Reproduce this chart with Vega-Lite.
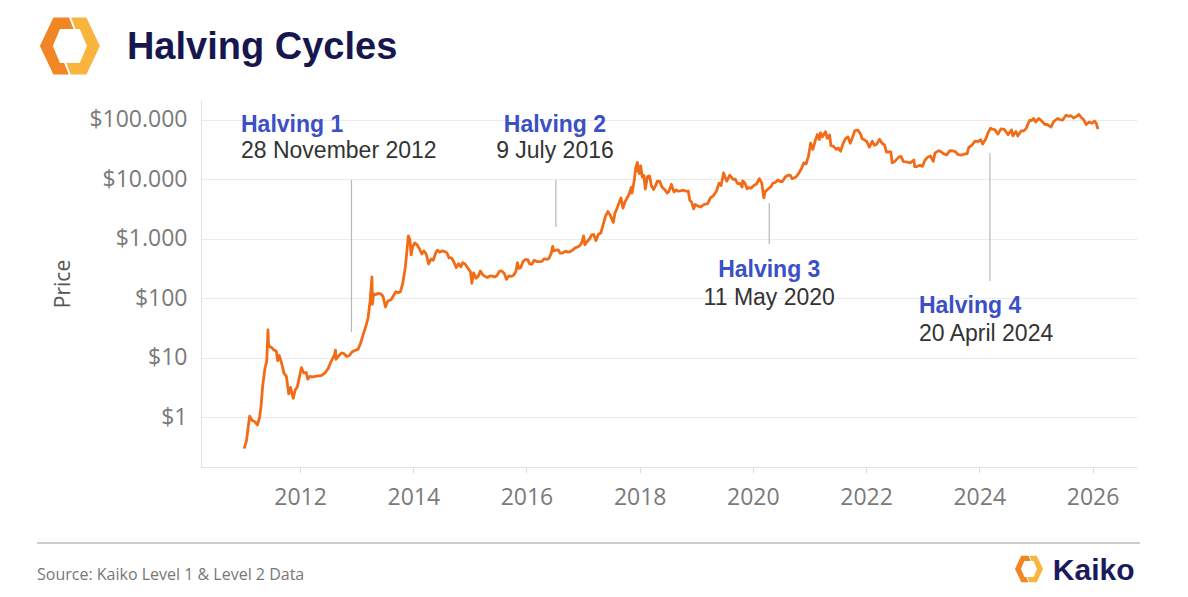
{
  "$schema": "https://vega.github.io/schema/vega-lite/v6.json",
  "width": 936,
  "height": 367,
  "autosize": "none",
  "padding": {"left": 201, "top": 100, "right": 51, "bottom": 130},
  "background": "white",
  "config": {"view": {"stroke": null}},
  "datasets": {
    "price": [
      {"date": "2011-01-05", "price": 0.3}, {"date": "2011-01-20", "price": 0.4}, {"date": "2011-02-01", "price": 0.7},
      {"date": "2011-02-10", "price": 1.05}, {"date": "2011-02-25", "price": 0.9}, {"date": "2011-03-15", "price": 0.85},
      {"date": "2011-04-01", "price": 0.75}, {"date": "2011-04-15", "price": 1.0}, {"date": "2011-04-25", "price": 1.6},
      {"date": "2011-05-05", "price": 3.4}, {"date": "2011-05-20", "price": 6.8}, {"date": "2011-05-31", "price": 8.7},
      {"date": "2011-06-08", "price": 29.6}, {"date": "2011-06-12", "price": 17}, {"date": "2011-06-20", "price": 15.5},
      {"date": "2011-07-01", "price": 15}, {"date": "2011-07-15", "price": 13.8}, {"date": "2011-08-01", "price": 13},
      {"date": "2011-08-10", "price": 9}, {"date": "2011-08-20", "price": 11}, {"date": "2011-09-05", "price": 8},
      {"date": "2011-09-20", "price": 5.5}, {"date": "2011-10-05", "price": 4.9}, {"date": "2011-10-20", "price": 2.5},
      {"date": "2011-11-01", "price": 3.2}, {"date": "2011-11-18", "price": 2.1}, {"date": "2011-12-01", "price": 2.9},
      {"date": "2011-12-15", "price": 3.3}, {"date": "2012-01-01", "price": 5.3}, {"date": "2012-01-10", "price": 6.9},
      {"date": "2012-01-25", "price": 5.6}, {"date": "2012-02-10", "price": 5.7}, {"date": "2012-02-20", "price": 4.4},
      {"date": "2012-03-05", "price": 4.9}, {"date": "2012-03-20", "price": 4.8}, {"date": "2012-04-10", "price": 4.9},
      {"date": "2012-05-01", "price": 5.0}, {"date": "2012-05-20", "price": 5.1}, {"date": "2012-06-10", "price": 5.6},
      {"date": "2012-07-01", "price": 6.7}, {"date": "2012-07-20", "price": 8.8}, {"date": "2012-08-10", "price": 11.3},
      {"date": "2012-08-17", "price": 13.5}, {"date": "2012-08-20", "price": 9.5}, {"date": "2012-09-10", "price": 11.1},
      {"date": "2012-09-25", "price": 12.2}, {"date": "2012-10-10", "price": 11.9}, {"date": "2012-10-28", "price": 10.6},
      {"date": "2012-11-15", "price": 11.0}, {"date": "2012-12-01", "price": 12.6}, {"date": "2012-12-20", "price": 13.4},
      {"date": "2013-01-10", "price": 14.1}, {"date": "2013-01-25", "price": 17.5}, {"date": "2013-02-10", "price": 24},
      {"date": "2013-02-28", "price": 33.5}, {"date": "2013-03-15", "price": 47}, {"date": "2013-03-28", "price": 90},
      {"date": "2013-04-09", "price": 230}, {"date": "2013-04-12", "price": 80}, {"date": "2013-04-20", "price": 120},
      {"date": "2013-05-01", "price": 116}, {"date": "2013-05-20", "price": 122}, {"date": "2013-06-05", "price": 120},
      {"date": "2013-06-20", "price": 108}, {"date": "2013-07-05", "price": 72}, {"date": "2013-07-20", "price": 90},
      {"date": "2013-08-10", "price": 95}, {"date": "2013-08-25", "price": 110}, {"date": "2013-09-10", "price": 130},
      {"date": "2013-09-25", "price": 125}, {"date": "2013-10-10", "price": 130}, {"date": "2013-10-25", "price": 180},
      {"date": "2013-11-10", "price": 330}, {"date": "2013-11-20", "price": 600}, {"date": "2013-11-30", "price": 1130},
      {"date": "2013-12-10", "price": 980}, {"date": "2013-12-18", "price": 540}, {"date": "2013-12-28", "price": 740},
      {"date": "2014-01-10", "price": 860}, {"date": "2014-01-25", "price": 800}, {"date": "2014-02-10", "price": 680},
      {"date": "2014-02-25", "price": 560}, {"date": "2014-03-10", "price": 630}, {"date": "2014-03-25", "price": 560},
      {"date": "2014-04-10", "price": 380}, {"date": "2014-04-25", "price": 460}, {"date": "2014-05-10", "price": 440},
      {"date": "2014-05-25", "price": 580}, {"date": "2014-06-05", "price": 650}, {"date": "2014-06-20", "price": 600},
      {"date": "2014-07-05", "price": 630}, {"date": "2014-07-20", "price": 620}, {"date": "2014-08-05", "price": 590},
      {"date": "2014-08-20", "price": 480}, {"date": "2014-09-05", "price": 480}, {"date": "2014-09-20", "price": 410},
      {"date": "2014-10-05", "price": 330}, {"date": "2014-10-20", "price": 385}, {"date": "2014-11-05", "price": 340},
      {"date": "2014-11-15", "price": 400}, {"date": "2014-12-01", "price": 380}, {"date": "2014-12-20", "price": 320},
      {"date": "2015-01-05", "price": 280}, {"date": "2015-01-14", "price": 180}, {"date": "2015-01-25", "price": 270},
      {"date": "2015-02-10", "price": 220}, {"date": "2015-02-25", "price": 240}, {"date": "2015-03-10", "price": 290},
      {"date": "2015-03-25", "price": 250}, {"date": "2015-04-10", "price": 235}, {"date": "2015-04-25", "price": 225},
      {"date": "2015-05-10", "price": 240}, {"date": "2015-05-25", "price": 237}, {"date": "2015-06-10", "price": 230},
      {"date": "2015-06-25", "price": 243}, {"date": "2015-07-10", "price": 285}, {"date": "2015-07-25", "price": 290},
      {"date": "2015-08-10", "price": 265}, {"date": "2015-08-25", "price": 210}, {"date": "2015-09-10", "price": 240},
      {"date": "2015-09-25", "price": 235}, {"date": "2015-10-10", "price": 245}, {"date": "2015-10-25", "price": 285},
      {"date": "2015-11-04", "price": 400}, {"date": "2015-11-12", "price": 320}, {"date": "2015-11-25", "price": 330},
      {"date": "2015-12-10", "price": 420}, {"date": "2015-12-25", "price": 450}, {"date": "2016-01-10", "price": 450},
      {"date": "2016-01-20", "price": 385}, {"date": "2016-02-05", "price": 375}, {"date": "2016-02-20", "price": 440},
      {"date": "2016-03-10", "price": 415}, {"date": "2016-03-25", "price": 415}, {"date": "2016-04-10", "price": 420},
      {"date": "2016-04-25", "price": 465}, {"date": "2016-05-10", "price": 455}, {"date": "2016-05-25", "price": 470},
      {"date": "2016-06-10", "price": 580}, {"date": "2016-06-18", "price": 750}, {"date": "2016-06-25", "price": 630},
      {"date": "2016-07-10", "price": 650}, {"date": "2016-07-25", "price": 655}, {"date": "2016-08-05", "price": 580},
      {"date": "2016-08-20", "price": 580}, {"date": "2016-09-10", "price": 625}, {"date": "2016-09-25", "price": 600},
      {"date": "2016-10-10", "price": 615}, {"date": "2016-10-25", "price": 650}, {"date": "2016-11-10", "price": 710},
      {"date": "2016-11-25", "price": 735}, {"date": "2016-12-10", "price": 770}, {"date": "2016-12-25", "price": 890},
      {"date": "2017-01-04", "price": 1130}, {"date": "2017-01-12", "price": 800}, {"date": "2017-01-25", "price": 890},
      {"date": "2017-02-10", "price": 1000}, {"date": "2017-02-25", "price": 1170}, {"date": "2017-03-10", "price": 1190},
      {"date": "2017-03-24", "price": 940}, {"date": "2017-04-10", "price": 1200}, {"date": "2017-04-25", "price": 1260},
      {"date": "2017-05-10", "price": 1750}, {"date": "2017-05-25", "price": 2400}, {"date": "2017-06-10", "price": 2900},
      {"date": "2017-06-25", "price": 2500}, {"date": "2017-07-15", "price": 1900}, {"date": "2017-07-25", "price": 2700},
      {"date": "2017-08-10", "price": 3400}, {"date": "2017-08-25", "price": 4300}, {"date": "2017-09-02", "price": 4900},
      {"date": "2017-09-15", "price": 3300}, {"date": "2017-09-28", "price": 4200}, {"date": "2017-10-10", "price": 4800},
      {"date": "2017-10-25", "price": 5700}, {"date": "2017-11-08", "price": 7400}, {"date": "2017-11-12", "price": 5900},
      {"date": "2017-11-26", "price": 9400}, {"date": "2017-12-07", "price": 16000}, {"date": "2017-12-17", "price": 19300},
      {"date": "2017-12-22", "price": 13800}, {"date": "2017-12-30", "price": 12600}, {"date": "2018-01-07", "price": 17000},
      {"date": "2018-01-17", "price": 11000}, {"date": "2018-01-28", "price": 11700}, {"date": "2018-02-06", "price": 6900},
      {"date": "2018-02-20", "price": 11200}, {"date": "2018-03-05", "price": 11500}, {"date": "2018-03-18", "price": 7800},
      {"date": "2018-04-01", "price": 6800}, {"date": "2018-04-15", "price": 8000}, {"date": "2018-04-25", "price": 9400},
      {"date": "2018-05-10", "price": 9300}, {"date": "2018-05-25", "price": 7500}, {"date": "2018-06-10", "price": 6800},
      {"date": "2018-06-28", "price": 5900}, {"date": "2018-07-10", "price": 6400}, {"date": "2018-07-24", "price": 8300},
      {"date": "2018-08-10", "price": 6200}, {"date": "2018-08-25", "price": 6700}, {"date": "2018-09-05", "price": 6400},
      {"date": "2018-09-20", "price": 6450}, {"date": "2018-10-10", "price": 6600}, {"date": "2018-10-28", "price": 6350},
      {"date": "2018-11-10", "price": 6400}, {"date": "2018-11-20", "price": 4500}, {"date": "2018-12-01", "price": 4200},
      {"date": "2018-12-15", "price": 3200}, {"date": "2018-12-25", "price": 3800}, {"date": "2019-01-10", "price": 3600},
      {"date": "2019-01-28", "price": 3450}, {"date": "2019-02-10", "price": 3650}, {"date": "2019-02-25", "price": 3850},
      {"date": "2019-03-15", "price": 3900}, {"date": "2019-04-02", "price": 4900}, {"date": "2019-04-20", "price": 5300},
      {"date": "2019-05-10", "price": 6300}, {"date": "2019-05-28", "price": 8700}, {"date": "2019-06-10", "price": 7900},
      {"date": "2019-06-26", "price": 12900}, {"date": "2019-07-05", "price": 11000}, {"date": "2019-07-17", "price": 9400},
      {"date": "2019-08-05", "price": 11800}, {"date": "2019-08-25", "price": 10100}, {"date": "2019-09-10", "price": 10100},
      {"date": "2019-09-25", "price": 8500}, {"date": "2019-10-10", "price": 8600}, {"date": "2019-10-24", "price": 7450},
      {"date": "2019-10-27", "price": 9500}, {"date": "2019-11-10", "price": 8800}, {"date": "2019-11-25", "price": 7000},
      {"date": "2019-12-10", "price": 7300}, {"date": "2019-12-20", "price": 7150}, {"date": "2020-01-10", "price": 8000},
      {"date": "2020-01-25", "price": 8400}, {"date": "2020-02-12", "price": 10350}, {"date": "2020-02-28", "price": 8700},
      {"date": "2020-03-12", "price": 4900}, {"date": "2020-03-20", "price": 6200}, {"date": "2020-04-05", "price": 6800},
      {"date": "2020-04-25", "price": 7500}, {"date": "2020-05-10", "price": 8700}, {"date": "2020-05-25", "price": 8900},
      {"date": "2020-06-10", "price": 9800}, {"date": "2020-06-25", "price": 9250}, {"date": "2020-07-10", "price": 9250},
      {"date": "2020-07-28", "price": 11000}, {"date": "2020-08-15", "price": 11800}, {"date": "2020-08-30", "price": 11700},
      {"date": "2020-09-10", "price": 10300}, {"date": "2020-09-25", "price": 10700}, {"date": "2020-10-10", "price": 11300},
      {"date": "2020-10-25", "price": 13000}, {"date": "2020-11-10", "price": 15300}, {"date": "2020-11-25", "price": 19000},
      {"date": "2020-12-10", "price": 18300}, {"date": "2020-12-25", "price": 24700}, {"date": "2021-01-08", "price": 41000},
      {"date": "2021-01-22", "price": 32000}, {"date": "2021-02-08", "price": 46000}, {"date": "2021-02-21", "price": 57000},
      {"date": "2021-03-05", "price": 47000}, {"date": "2021-03-13", "price": 61000}, {"date": "2021-03-25", "price": 52000},
      {"date": "2021-04-14", "price": 63500}, {"date": "2021-04-25", "price": 49000}, {"date": "2021-05-10", "price": 56000},
      {"date": "2021-05-19", "price": 37000}, {"date": "2021-06-05", "price": 36000}, {"date": "2021-06-22", "price": 32000},
      {"date": "2021-07-05", "price": 34000}, {"date": "2021-07-20", "price": 29800}, {"date": "2021-08-05", "price": 40000},
      {"date": "2021-08-22", "price": 49000}, {"date": "2021-09-06", "price": 52000}, {"date": "2021-09-21", "price": 40700},
      {"date": "2021-10-05", "price": 51000}, {"date": "2021-10-20", "price": 66000}, {"date": "2021-11-09", "price": 67500},
      {"date": "2021-11-28", "price": 57000}, {"date": "2021-12-05", "price": 49000}, {"date": "2021-12-20", "price": 46500},
      {"date": "2022-01-05", "price": 43500}, {"date": "2022-01-22", "price": 35000}, {"date": "2022-02-10", "price": 44000},
      {"date": "2022-02-24", "price": 37500}, {"date": "2022-03-10", "price": 39000}, {"date": "2022-03-28", "price": 47300},
      {"date": "2022-04-15", "price": 40400}, {"date": "2022-04-30", "price": 38000}, {"date": "2022-05-12", "price": 29000},
      {"date": "2022-05-28", "price": 29000}, {"date": "2022-06-10", "price": 29000}, {"date": "2022-06-18", "price": 19000},
      {"date": "2022-07-05", "price": 20200}, {"date": "2022-07-30", "price": 23800}, {"date": "2022-08-14", "price": 24400},
      {"date": "2022-08-30", "price": 20000}, {"date": "2022-09-15", "price": 19700}, {"date": "2022-09-30", "price": 19400},
      {"date": "2022-10-15", "price": 19100}, {"date": "2022-11-05", "price": 21300}, {"date": "2022-11-10", "price": 16500},
      {"date": "2022-11-25", "price": 16500}, {"date": "2022-12-15", "price": 17400}, {"date": "2022-12-30", "price": 16600},
      {"date": "2023-01-15", "price": 20900}, {"date": "2023-02-01", "price": 23700}, {"date": "2023-02-20", "price": 24800},
      {"date": "2023-03-10", "price": 20200}, {"date": "2023-03-22", "price": 28000}, {"date": "2023-04-14", "price": 30500},
      {"date": "2023-04-30", "price": 29300}, {"date": "2023-05-15", "price": 27200}, {"date": "2023-06-05", "price": 25800},
      {"date": "2023-06-25", "price": 30500}, {"date": "2023-07-15", "price": 30300}, {"date": "2023-08-01", "price": 29200},
      {"date": "2023-08-18", "price": 26100}, {"date": "2023-09-10", "price": 25800}, {"date": "2023-09-30", "price": 26900},
      {"date": "2023-10-15", "price": 26900}, {"date": "2023-10-25", "price": 34500}, {"date": "2023-11-15", "price": 37800},
      {"date": "2023-12-05", "price": 44000}, {"date": "2023-12-25", "price": 43500}, {"date": "2024-01-11", "price": 46600},
      {"date": "2024-01-23", "price": 39500}, {"date": "2024-02-10", "price": 47000}, {"date": "2024-02-28", "price": 62000},
      {"date": "2024-03-14", "price": 73000}, {"date": "2024-03-25", "price": 70000}, {"date": "2024-04-10", "price": 69000},
      {"date": "2024-05-01", "price": 58000}, {"date": "2024-05-20", "price": 71000}, {"date": "2024-06-10", "price": 69500},
      {"date": "2024-07-05", "price": 56600}, {"date": "2024-07-28", "price": 68000}, {"date": "2024-08-05", "price": 54000},
      {"date": "2024-08-25", "price": 64000}, {"date": "2024-09-06", "price": 53900}, {"date": "2024-09-28", "price": 65800},
      {"date": "2024-10-15", "price": 66000}, {"date": "2024-10-30", "price": 72300}, {"date": "2024-11-12", "price": 88000},
      {"date": "2024-11-22", "price": 99000}, {"date": "2024-12-05", "price": 98000}, {"date": "2024-12-17", "price": 106000},
      {"date": "2024-12-30", "price": 92500}, {"date": "2025-01-20", "price": 106000}, {"date": "2025-02-05", "price": 97000},
      {"date": "2025-02-28", "price": 84000}, {"date": "2025-03-15", "price": 84000}, {"date": "2025-04-08", "price": 76000},
      {"date": "2025-04-25", "price": 94000}, {"date": "2025-05-20", "price": 106000}, {"date": "2025-06-05", "price": 101500},
      {"date": "2025-06-22", "price": 100000}, {"date": "2025-07-14", "price": 120000}, {"date": "2025-07-31", "price": 115500},
      {"date": "2025-08-14", "price": 118000}, {"date": "2025-09-01", "price": 108000}, {"date": "2025-09-20", "price": 115000},
      {"date": "2025-10-06", "price": 124000}, {"date": "2025-10-20", "price": 110000}, {"date": "2025-11-05", "price": 101000},
      {"date": "2025-11-21", "price": 84000}, {"date": "2025-12-10", "price": 92000}, {"date": "2025-12-30", "price": 88000},
      {"date": "2026-01-14", "price": 96000}, {"date": "2026-01-25", "price": 88000}, {"date": "2026-02-05", "price": 70000}
    ],
    "halvings": [
      {"name": "Halving 1", "date": "2012-11-28", "price": 9800, "price2": 27.4},
      {"name": "Halving 2", "date": "2016-07-09", "price": 9800, "price2": 1590},
      {"name": "Halving 3", "date": "2020-04-16", "price": 4030, "price2": 824},
      {"name": "Halving 4", "date": "2024-03-10", "price": 27900, "price2": 197}
    ],
    "labels": [
      {"text": "Halving 1", "kind": "name", "side": "left", "date": "2010-12-16", "price": 84000},
      {"text": "28 November 2012", "kind": "date", "side": "left", "date": "2010-12-16", "price": 30100},
      {"text": "Halving 2", "kind": "name", "side": "center", "date": "2016-07-03", "price": 84000},
      {"text": "9 July 2016", "kind": "date", "side": "center", "date": "2016-07-03", "price": 30100},
      {"text": "Halving 3", "kind": "name", "side": "center", "date": "2020-04-16", "price": 301},
      {"text": "11 May 2020", "kind": "date", "side": "center", "date": "2020-04-16", "price": 100},
      {"text": "Halving 4", "kind": "name", "side": "left", "date": "2022-12-08", "price": 73.4},
      {"text": "20 April 2024", "kind": "date", "side": "left", "date": "2022-12-08", "price": 25.8}
    ],
    "heading": [{"text": "Halving Cycles", "date": "2008-12-10", "price": 1060000}],
    "source": [{"text": "Source: Kaiko Level 1 & Level 2 Data", "date": "2007-05-10", "price": 0.002254}],
    "brand": [{"text": "Kaiko", "date": "2025-04-20", "price": 0.00263}],
    "footerLine": [{"date": "2007-05-10", "date2": "2026-11-03", "price": 0.00778}],
    "logoTop": [{"date": "2007-12-08", "price": 1752000}],
    "logoBottom": [{"date": "2024-11-17", "price": 0.002844}]
  },
  "encoding": {
    "x": {
      "field": "date",
      "type": "temporal",
      "scale": {"type": "utc", "domain": [{"year": 2010, "month": 4, "date": 2, "utc": true}, {"year": 2026, "month": 10, "date": 15, "utc": true}]},
      "axis": {
        "title": null,
        "format": "%Y",
        "values": [{"year": 2012, "utc": true}, {"year": 2014, "utc": true}, {"year": 2016, "utc": true}, {"year": 2018, "utc": true}, {"year": 2020, "utc": true}, {"year": 2022, "utc": true}, {"year": 2024, "utc": true}, {"year": 2026, "utc": true}],
        "grid": false,
        "domainColor": "#e3e3e3",
        "tickColor": "#dcdcdc",
        "tickSize": 6,
        "labelFont": "Open Sans",
        "labelFontSize": 23,
        "labelColor": "#7a7a7a",
        "labelPadding": 13
      }
    },
    "y": {
      "field": "price",
      "type": "quantitative",
      "scale": {"type": "log", "domain": [0.1472, 216800]},
      "axis": {
        "title": "Price",
        "values": [1, 10, 100, 1000, 10000, 100000],
        "labelExpr": "'$' + replace(format(datum.value, ',.0f'), regexp(',', 'g'), '.')",
        "grid": true,
        "gridColor": "#ebebeb",
        "ticks": false,
        "domainColor": "#e3e3e3",
        "labelFont": "Open Sans",
        "labelFontSize": 23,
        "labelColor": "#7a7a7a",
        "labelPadding": 14,
        "titleFont": "Open Sans",
        "titleFontSize": 21,
        "titleFontWeight": "normal",
        "titleColor": "#555555",
        "titlePadding": 15
      }
    }
  },
  "layer": [
    {
      "data": {"name": "price"},
      "mark": {"type": "line", "color": "#f26c17", "strokeWidth": 2.8, "strokeJoin": "round"}
    },
    {
      "data": {"name": "halvings"},
      "mark": {"type": "rule", "color": "#b8b8b8", "strokeWidth": 1.2},
      "encoding": {"y2": {"field": "price2"}}
    },
    {
      "data": {"name": "labels"},
      "transform": [{"filter": "datum.kind == 'name' && datum.side == 'left'"}],
      "mark": {"type": "text", "align": "left", "baseline": "middle", "font": "Liberation Sans", "fontSize": 23, "fontWeight": "bold", "color": "#3b4fc6"},
      "encoding": {"text": {"field": "text"}}
    },
    {
      "data": {"name": "labels"},
      "transform": [{"filter": "datum.kind == 'name' && datum.side == 'center'"}],
      "mark": {"type": "text", "align": "center", "baseline": "middle", "font": "Liberation Sans", "fontSize": 23, "fontWeight": "bold", "color": "#3b4fc6"},
      "encoding": {"text": {"field": "text"}}
    },
    {
      "data": {"name": "labels"},
      "transform": [{"filter": "datum.kind == 'date' && datum.side == 'left'"}],
      "mark": {"type": "text", "align": "left", "baseline": "middle", "font": "Liberation Sans", "fontSize": 23, "color": "#333333"},
      "encoding": {"text": {"field": "text"}}
    },
    {
      "data": {"name": "labels"},
      "transform": [{"filter": "datum.kind == 'date' && datum.side == 'center'"}],
      "mark": {"type": "text", "align": "center", "baseline": "middle", "font": "Liberation Sans", "fontSize": 23, "color": "#333333"},
      "encoding": {"text": {"field": "text"}}
    },
    {
      "data": {"name": "heading"},
      "mark": {"type": "text", "align": "left", "baseline": "alphabetic", "font": "Liberation Sans", "fontSize": 38, "fontWeight": "bold", "color": "#17174f"},
      "encoding": {"text": {"field": "text"}}
    },
    {
      "data": {"name": "source"},
      "mark": {"type": "text", "align": "left", "baseline": "middle", "font": "Open Sans", "fontSize": 16, "color": "#777777"},
      "encoding": {"text": {"field": "text"}}
    },
    {
      "data": {"name": "brand"},
      "mark": {"type": "text", "align": "left", "baseline": "middle", "font": "Liberation Sans", "fontSize": 30, "fontWeight": "bold", "color": "#1b1b5c"},
      "encoding": {"text": {"field": "text"}}
    },
    {
      "data": {"name": "footerLine"},
      "mark": {"type": "rule", "color": "#bdbdbd", "strokeWidth": 1.5},
      "encoding": {"x2": {"field": "date2"}}
    },
    {
      "data": {"name": "logoTop"},
      "mark": {"type": "point", "filled": true, "opacity": 1, "size": 3600, "color": "#f28524", "shape": "M -0.03,-0.95 L -0.55,-0.95 L -1,0 L -0.55,0.95 L -0.04,0.95 L -0.19,0.57 L -0.33,0.57 L -0.57,0 L -0.33,-0.57 L 0.12,-0.57 Z"}
    },
    {
      "data": {"name": "logoTop"},
      "mark": {"type": "point", "filled": true, "opacity": 1, "size": 3600, "color": "#f9b43b", "shape": "M 0.03,0.95 L 0.55,0.95 L 1,0 L 0.55,-0.95 L 0.04,-0.95 L 0.19,-0.57 L 0.33,-0.57 L 0.57,0 L 0.33,0.57 L -0.12,0.57 Z"}
    },
    {
      "data": {"name": "logoBottom"},
      "mark": {"type": "point", "filled": true, "opacity": 1, "size": 784, "color": "#f28524", "shape": "M -0.03,-0.95 L -0.55,-0.95 L -1,0 L -0.55,0.95 L -0.04,0.95 L -0.19,0.57 L -0.33,0.57 L -0.57,0 L -0.33,-0.57 L 0.12,-0.57 Z"}
    },
    {
      "data": {"name": "logoBottom"},
      "mark": {"type": "point", "filled": true, "opacity": 1, "size": 784, "color": "#f9b43b", "shape": "M 0.03,0.95 L 0.55,0.95 L 1,0 L 0.55,-0.95 L 0.04,-0.95 L 0.19,-0.57 L 0.33,-0.57 L 0.57,0 L 0.33,0.57 L -0.12,0.57 Z"}
    }
  ]
}
